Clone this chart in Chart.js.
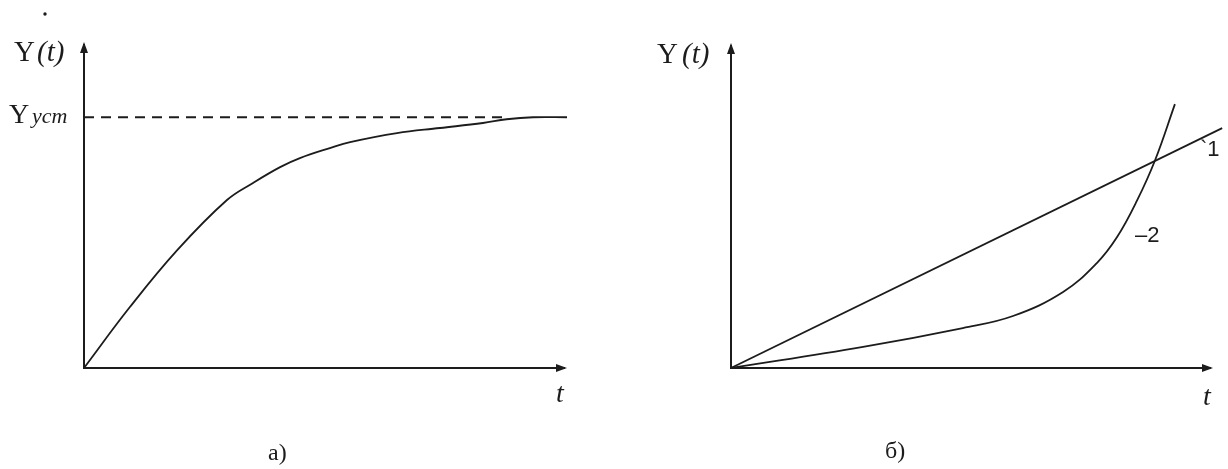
<!DOCTYPE html>
<html lang="ru">
<head>
<meta charset="UTF-8">
<title>Y(t)</title>
<script src="https://cdn.jsdelivr.net/npm/chart.js"></script>
<style>
  body { margin: 0; background: #fff; }
  .wrap { position: relative; width: 1228px; height: 469px; }
  canvas { position: absolute; top: 0; }
  #chartA { left: 0; }
  #chartB { left: 614px; }
</style>
</head>
<body>
<div class="wrap">
  <canvas id="chartA" width="614" height="469"></canvas>
  <canvas id="chartB" width="614" height="469"></canvas>
</div>
<script>
// а) переходная кривая с установившимся значением
const aX = [0, 0.95, 1.93, 2.96, 3.5, 4.06, 4.47, 5.09, 5.51, 6.48, 7.37, 8.26, 8.75, 9.3, 10];
const aY = [0, 0.243, 0.47, 0.67, 0.738, 0.801, 0.837, 0.877, 0.901, 0.937, 0.957, 0.977, 0.992, 1, 1];
const yUst = 1;
const ustX = [0, 8.7];

// б) прямая 1 и кривая 2
const b1X = [0, 10.19];
const b1Y = [0, 7.38];
const b2X = [0, 2.74, 4.81, 5.85, 6.89, 7.59, 8.01, 8.42, 8.8, 9.21];
const b2Y = [0, 0.65, 1.23, 1.6, 2.34, 3.23, 4.03, 5.14, 6.4, 8.12];

const INK = '#1c1c1c';
const pts = (xs, ys) => xs.map((x, i) => ({ x: x, y: ys[i] }));

// оси со стрелками
const axesArrows = {
  id: 'axesArrows',
  afterDraw(chart) {
    const { ctx, chartArea: a, scales } = chart;
    const x0 = scales.x.getPixelForValue(0);
    const y0 = scales.y.getPixelForValue(0);
    ctx.save();
    ctx.strokeStyle = INK;
    ctx.fillStyle = INK;
    ctx.lineWidth = 2;
    ctx.beginPath();
    ctx.moveTo(x0, a.top + 2);
    ctx.lineTo(x0, y0);
    ctx.lineTo(a.right - 2, y0);
    ctx.stroke();
    ctx.beginPath();
    ctx.moveTo(x0, a.top);
    ctx.lineTo(x0 - 4, a.top + 11);
    ctx.lineTo(x0 + 4, a.top + 11);
    ctx.closePath();
    ctx.fill();
    ctx.beginPath();
    ctx.moveTo(a.right, y0);
    ctx.lineTo(a.right - 11, y0 - 4);
    ctx.lineTo(a.right - 11, y0 + 4);
    ctx.closePath();
    ctx.fill();
    ctx.restore();
  }
};

// подписи
const labels = {
  id: 'labels',
  afterDraw(chart, args, opts) {
    const ctx = chart.ctx;
    ctx.save();
    ctx.fillStyle = INK;
    ctx.textBaseline = 'alphabetic';
    (opts.items || []).forEach(it => {
      ctx.font = it.font;
      ctx.fillText(it.text, it.x, it.y);
    });
    (opts.dots || []).forEach(d => {
      ctx.beginPath();
      ctx.arc(d.x, d.y, 1.7, 0, Math.PI * 2);
      ctx.fill();
    });
    ctx.restore();
  }
};

const serif = '"Liberation Serif", "Times New Roman", serif';
const sans = '"Liberation Sans", Arial, sans-serif';

function baseOptions(pad, xMax, yMax, items, dots) {
  return {
    responsive: false,
    animation: false,
    layout: { padding: pad },
    plugins: {
      legend: { display: false },
      tooltip: { enabled: false },
      labels: { items: items, dots: dots || [] }
    },
    elements: { point: { radius: 0 }, line: { tension: 0.4 } },
    scales: {
      x: { type: 'linear', min: 0, max: xMax, display: false },
      y: { type: 'linear', min: 0, max: yMax, display: false }
    }
  };
}

new Chart(document.getElementById('chartA'), {
  type: 'line',
  data: {
    datasets: [
      {
        data: pts(ustX, ustX.map(() => yUst)),
        borderColor: INK, borderWidth: 1.8, borderDash: [10, 7], tension: 0
      },
      {
        data: pts(aX, aY),
        borderColor: INK, borderWidth: 1.8, clip: false
      }
    ]
  },
  options: baseOptions({ left: 84, top: 42, right: 47, bottom: 101 }, 10, 1.3, [
    { text: 'Y', x: 14, y: 61, font: '29px ' + serif },
    { text: '(t)', x: 37, y: 61, font: 'italic 29px ' + serif },
    { text: 'Y', x: 9, y: 123, font: '28px ' + serif },
    { text: 'уст', x: 32, y: 123, font: 'italic 22px ' + serif },
    { text: 't', x: 556, y: 402, font: 'italic 28px ' + serif },
    { text: 'а)', x: 268, y: 460, font: '24px ' + serif }
  ], [{ x: 45, y: 14 }]),
  plugins: [axesArrows, labels]
});

new Chart(document.getElementById('chartB'), {
  type: 'line',
  data: {
    datasets: [
      {
        data: pts(b1X, b1Y),
        borderColor: INK, borderWidth: 1.8, clip: false, tension: 0
      },
      {
        data: pts(b2X, b2Y),
        borderColor: INK, borderWidth: 1.8, clip: false
      }
    ]
  },
  options: baseOptions({ left: 117, top: 43, right: 15, bottom: 101 }, 10, 10, [
    { text: 'Y', x: 43, y: 63, font: '29px ' + serif },
    { text: '(t)', x: 68, y: 63, font: 'italic 29px ' + serif },
    { text: 't', x: 589, y: 405, font: 'italic 28px ' + serif },
    { text: '`1', x: 586, y: 156, font: '22px ' + sans },
    { text: '–2', x: 521, y: 242, font: '22px ' + sans },
    { text: 'б)', x: 271, y: 458, font: '24px ' + serif }
  ]),
  plugins: [axesArrows, labels]
});
</script>
</body>
</html>
